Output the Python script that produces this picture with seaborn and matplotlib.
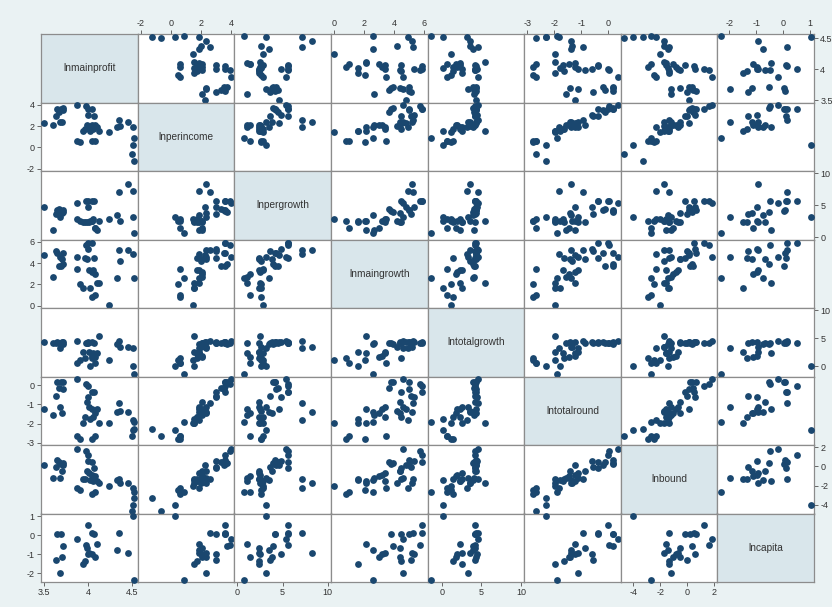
import numpy as np
import pandas as pd
import matplotlib
matplotlib.use("Agg")
import matplotlib.pyplot as plt
import seaborn as sns

nan = np.nan

# variable names, in the order of the matrix
variables = ["lnmainprofit", "lnperincome", "lnpergrowth", "lnmaingrowth",
             "lntotalgrowth", "lntotalround", "lnbound", "lncapita"]

lnmainprofit = [3.50, 3.60, 3.64, 3.65, 3.67, 3.69, 3.72, 3.68, 3.70, 3.88,
                3.88, 3.91, 3.94, 3.98, 4.00, 4.05, 4.07, 3.99, 4.01, 4.04,
                4.08, 4.10, 4.12, 3.97, 4.02, 4.06, 4.04, 4.08, 4.24, 4.33,
                4.35, 4.37, 4.46, 4.51, 4.53, 4.51, 4.50, 4.52, 4.00, 3.72]
lnperincome = [2.29, 2.10, 2.98, 3.62, 3.30, 3.62, 3.70, 2.35, 2.35, 4.00,
               0.60, 0.50, 1.56, 3.90, 3.62, 3.62, 2.98, 2.10, 1.90, 2.10,
               2.10, 1.90, 1.56, 1.73, 1.56, 1.73, 0.60, 0.60, 1.46, 1.90,
               2.60, 2.00, 2.35, 1.90, 0.90, 0.27, -0.66, -1.24, 3.00, 3.50]
lnpergrowth = [4.65, 1.10, 3.60, 4.20, 4.45, 4.13, 3.90, 3.20, 3.80, 5.34,
               2.80, 2.60, 2.43, 5.60, 5.60, 5.60, 5.60, 2.43, 2.43, 2.54,
               1.38, 1.10, 2.54, 2.43, 2.60, 2.80, 2.60, 1.38, 2.86, 3.50,
               7.10, 2.60, 8.25, 7.20, 0.70, 3.20, nan, nan, 4.80, 4.30]
lnmaingrowth = [4.79, 2.67, 5.10, 4.95, 3.68, 3.77, 3.90, 4.57, 4.40, 4.57,
                3.43, 2.03, 1.62, 5.74, 5.84, 5.84, 4.48, 4.38, 3.36, 3.20,
                2.98, 2.15, 2.15, 4.48, 1.62, 3.36, 0.82, 0.98, 0.03, 2.60,
                5.27, 4.20, 5.20, 4.89, 2.57, nan, nan, nan, 5.30, 4.95]
lntotalgrowth = [4.35, 4.10, 4.20, 4.30, 4.10, 4.20, 3.93, 3.30, 4.30, 4.50,
                 0.65, 1.13, 2.50, 4.20, 4.20, 4.35, 4.20, 4.20, 2.50, 1.90,
                 1.73, 2.30, 5.47, 1.43, 0.12, 2.30, 1.43, 0.65, 1.13, 3.93,
                 4.50, 3.50, 3.50, 3.20, -1.43, 0.12, nan, nan, 4.40, 4.30]
lntotalround = [-1.23, -1.55, -0.58, 0.16, -0.14, 0.16, 0.16, -1.14, -1.43, 0.34,
                -2.66, -2.78, -1.96, 0.04, -0.02, -0.37, -0.37, -0.85, -1.14, -1.25,
                -1.46, -1.25, -1.96, -1.64, -1.78, -1.67, -2.78, -2.66, -1.96, -1.38,
                -0.93, -1.34, -1.38, -1.81, -1.90, -2.31, -2.66, -2.29, -0.60, -0.20]
lnbound = [0.14, -1.21, -0.04, 0.68, 0.46, 0.21, 0.32, -1.21, -0.50, 1.82,
           -2.29, -2.46, -1.32, 1.64, 1.21, 0.50, -0.14, -0.50, -0.68, -0.86,
           -1.04, -1.57, -1.75, -1.32, -1.39, -1.57, -2.89, -2.64, -2.04, -1.39,
           -1.32, -1.70, -1.75, -2.29, -2.64, -4.00, -4.68, -3.25, 0.60, 0.10]
lncapita = [nan, nan, -1.30, 0.07, nan, 0.04, -0.55, -1.98, -1.16, -0.19,
            nan, nan, -1.51, -0.50, 0.52, 0.13, 0.09, -0.68, -0.94, -0.98,
            -1.12, -0.46, nan, -1.34, nan, nan, nan, nan, nan, -0.76,
            0.13, nan, -0.94, nan, -2.33, 1.02, nan, nan, -0.98, nan]

# tick values shown on the outer axes
ticks = {
    "lnmainprofit": [3.5, 4, 4.5],
    "lnperincome": [-2, 0, 2, 4],
    "lnpergrowth": [0, 5, 10],
    "lnmaingrowth": [0, 2, 4, 6],
    "lntotalgrowth": [0, 5, 10],
    "lntotalround": [-3, -2, -1, 0],
    "lnbound": [-4, -2, 0, 2],
    "lncapita": [-2, -1, 0, 1],
}

df = pd.DataFrame({
    "lnmainprofit": lnmainprofit, "lnperincome": lnperincome,
    "lnpergrowth": lnpergrowth, "lnmaingrowth": lnmaingrowth,
    "lntotalgrowth": lntotalgrowth, "lntotalround": lntotalround,
    "lnbound": lnbound, "lncapita": lncapita,
})

sns.set_style("white")
plt.rcParams["font.family"] = ["Liberation Sans", "DejaVu Sans"]

navy = "#1a476f"
bg = "#eaf2f3"
diag_fill = "#d9e6eb"
border = "#8c8c8c"


def limits(var):
    lo = min(df[var].min(), min(ticks[var]))
    hi = max(df[var].max(), max(ticks[var]))
    pad = (hi - lo) * 0.035
    return lo - pad, hi + pad


def fmt(v):
    return f"{v:g}"


n = len(variables)
fig, axes = plt.subplots(n, n, figsize=(8.32, 6.07), dpi=100)
fig.patch.set_facecolor(bg)
fig.subplots_adjust(left=41 / 832, right=814 / 832, top=1 - 34 / 607,
                    bottom=1 - 582 / 607, wspace=0, hspace=0)

for i, yv in enumerate(variables):
    for j, xv in enumerate(variables):
        ax = axes[i, j]
        ax.set_xlim(*limits(xv))
        ax.set_ylim(*limits(yv))
        if i == j:
            ax.set_facecolor(diag_fill)
            ax.text(0.5, 0.5, xv, transform=ax.transAxes, ha="center",
                    va="center", fontsize=7.3, color="#333333")
        else:
            ax.set_facecolor("white")
            sns.scatterplot(x=df[xv], y=df[yv], ax=ax, color=navy, s=24,
                            linewidth=0, legend=False, clip_on=False,
                            zorder=3)
        ax.set_xlabel("")
        ax.set_ylabel("")
        for sp in ax.spines.values():
            sp.set_color(border)
            sp.set_linewidth(0.9)

        ax.set_xticks(ticks[xv])
        ax.set_yticks(ticks[yv])
        ax.set_xticklabels([fmt(t) for t in ticks[xv]])
        ax.set_yticklabels([fmt(t) for t in ticks[yv]])

        show_top = (i == 0 and j % 2 == 1)
        show_bottom = (i == n - 1 and j % 2 == 0)
        show_left = (j == 0 and i % 2 == 1)
        show_right = (j == n - 1 and i % 2 == 0)
        ax.tick_params(axis="x", which="both", direction="out", length=3,
                       width=0.7, color="#666666", labelsize=6.5,
                       labelcolor="#333333", pad=1.5,
                       top=show_top, labeltop=show_top,
                       bottom=show_bottom, labelbottom=show_bottom)
        ax.tick_params(axis="y", which="both", direction="out", length=3,
                       width=0.7, color="#666666", labelsize=6.5,
                       labelcolor="#333333", pad=1.5,
                       left=show_left, labelleft=show_left,
                       right=show_right, labelright=show_right)

fig.savefig("out.png", dpi=100, facecolor=bg)
